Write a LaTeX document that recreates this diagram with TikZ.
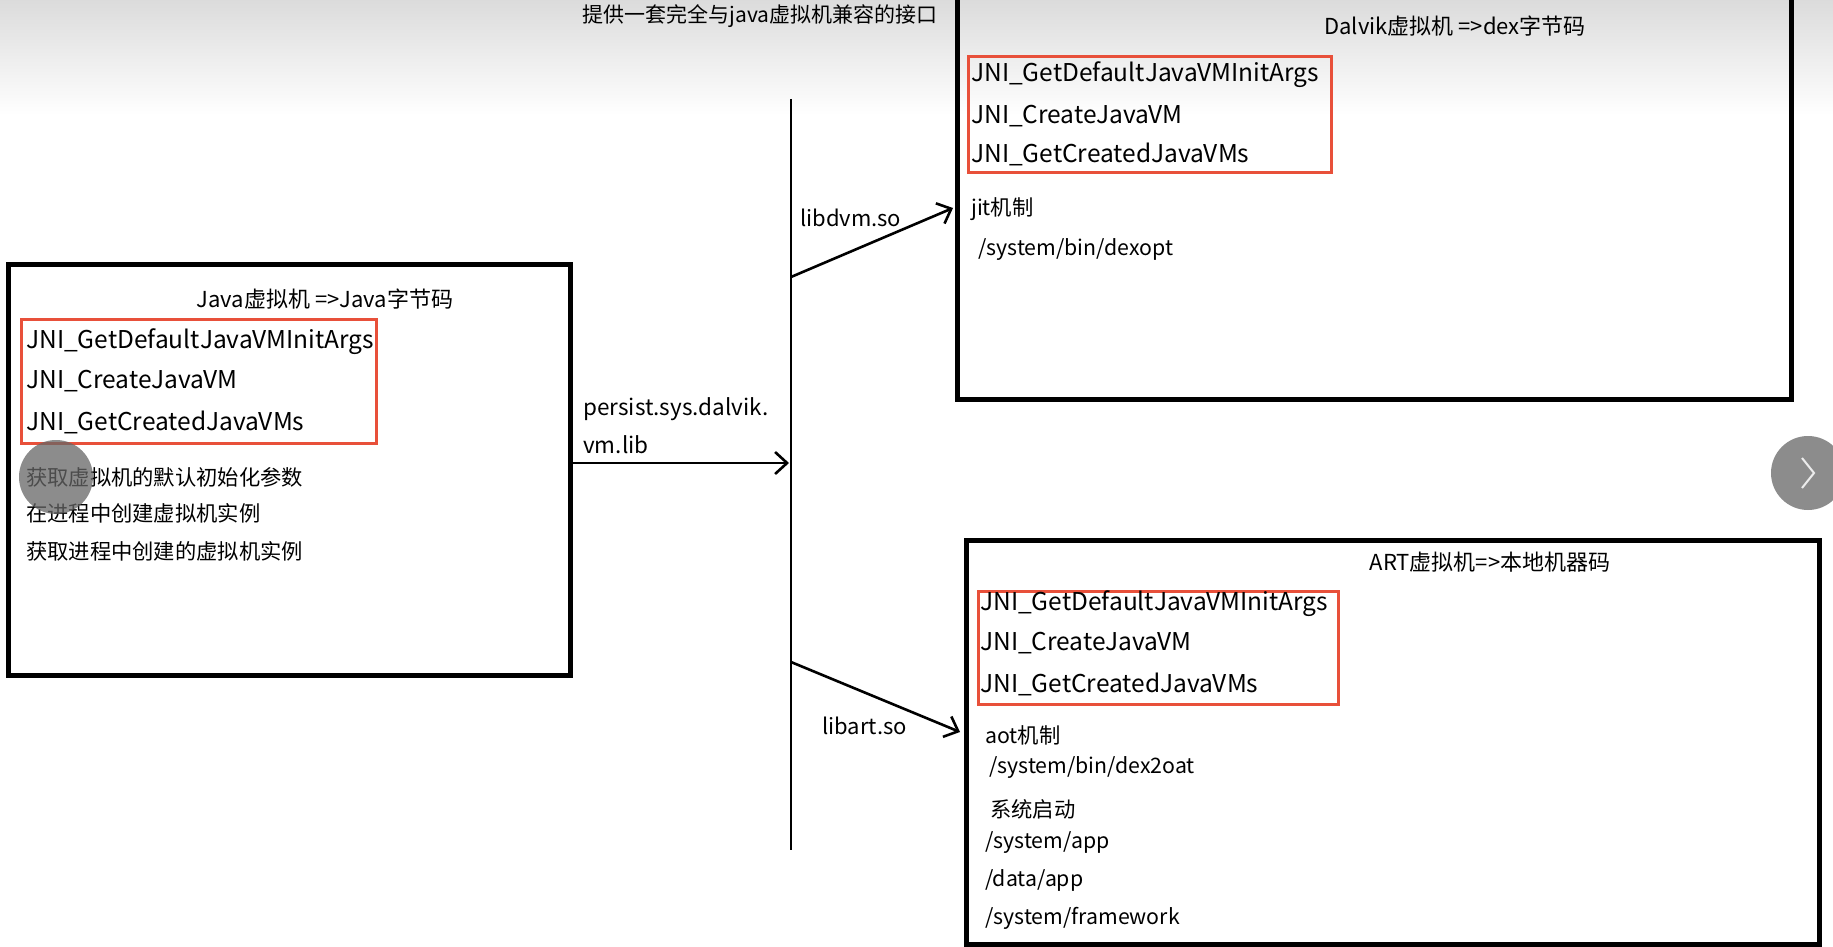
\documentclass[tikz,border=0pt]{standalone}
\usepackage{fontspec}
\setmainfont{Noto Sans CJK SC}
\usetikzlibrary{arrows.meta}
\definecolor{redline}{HTML}{E8503A}
\begin{document}
\begin{tikzpicture}[x=1pt,y=-1pt,
  vmbox/.style={draw=black,line width=5pt,anchor=north west,inner sep=0pt},
  redbox/.style={draw=redline,line width=2.6pt,anchor=north west,inner sep=0pt},
  txt/.style={anchor=west,inner sep=0pt,font=\fontsize{24.5}{28}\selectfont},
  cjk/.style={anchor=west,inner sep=0pt,font=\fontsize{21.3}{24}\selectfont},
  lbl/.style={anchor=west,inner sep=0pt,font=\fontsize{21.3}{24}\selectfont},
  ttl/.style={anchor=center,inner sep=0pt,font=\fontsize{22}{24}\selectfont},
  conn/.style={line width=2.6pt,-{Straight Barb[length=12pt,width=22pt,line width=2.6pt]}},
  uicircle/.style={fill=gray!80!black,opacity=0.75}]
\useasboundingbox (0,0) rectangle (1833,947);
\fill[white] (0,0) rectangle (1833,947);
\shade[top color=gray!28,bottom color=white] (0,0) rectangle (1833,115);

% title
\node[ttl,font=\fontsize{21}{24}\selectfont] (title) at (760,16) {提供一套完全与java虚拟机兼容的接口};

% bus line
\coordinate (bustop) at (791,99);
\coordinate (busbot) at (791,850);
\draw[line width=2.6pt] (bustop) -- (busbot);
\coordinate (busdvm) at (791,277);
\coordinate (busart) at (791,662);

% Java VM box
\node[vmbox,minimum width=562pt,minimum height=411pt] (java) at (6,262) {};
\node[ttl] (javatitle) at (325,299) {Java虚拟机 =>Java字节码};
\node[redbox,minimum width=355pt,minimum height=124pt] (javared) at (20,318) {};
\node[txt] (j1) at (26,342) {JNI\_GetDefaultJavaVMInitArgs};
\node[txt] (j2) at (26,381) {JNI\_CreateJavaVM};
\node[txt] (j3) at (26,422) {JNI\_GetCreatedJavaVMs};
\node[cjk] (c1) at (26,477) {获取虚拟机的默认初始化参数};
\node[cjk] (c2) at (26,513) {在进程中创建虚拟机实例};
\node[cjk] (c3) at (26,551) {获取进程中创建的虚拟机实例};

% Dalvik box
\node[vmbox,minimum width=834pt,minimum height=427pt] (dalvik) at (955,-30) {};
\node[ttl] (dtitle) at (1455,26) {Dalvik虚拟机 =>dex字节码};
\node[redbox,minimum width=363pt,minimum height=116pt] (dred) at (967,55) {};
\node[txt] (d1) at (971,75) {JNI\_GetDefaultJavaVMInitArgs};
\node[txt] (d2) at (971,116) {JNI\_CreateJavaVM};
\node[txt] (d3) at (971,154) {JNI\_GetCreatedJavaVMs};
\node[cjk] (jit) at (971,209) {jit机制};
\node[cjk] (dexopt) at (978,250) {/system/bin/dexopt};

% ART box
\node[vmbox,minimum width=853pt,minimum height=404pt] (art) at (964,538) {};
\node[ttl] (atitle) at (1490,562) {ART虚拟机=>本地机器码};
\node[redbox,minimum width=360pt,minimum height=113pt] (ared) at (977,590) {};
\node[txt] (a1) at (980,604) {JNI\_GetDefaultJavaVMInitArgs};
\node[txt] (a2) at (980,643) {JNI\_CreateJavaVM};
\node[txt] (a3) at (980,684) {JNI\_GetCreatedJavaVMs};
\node[cjk] (aot) at (985,735) {aot机制};
\node[cjk] (dex2oat) at (989,768) {/system/bin/dex2oat};
\node[cjk] (boot) at (990,809) {系统启动};
\node[cjk] (sysapp) at (985,843) {/system/app};
\node[cjk] (dataapp) at (985,880) {/data/app};
\node[cjk] (fw) at (985,918) {/system/framework};

% connectors
\coordinate (javaout) at (568,463);
\coordinate (busin) at (789,463);
\draw[conn] (javaout) -- (busin);
\node[lbl,font=\fontsize{22.5}{24}\selectfont] (p1) at (583,409) {persist.sys.dalvik.};
\node[lbl,font=\fontsize{22.5}{24}\selectfont] (p2) at (583,445) {vm.lib};

\coordinate (dvmin) at (953,208);
\draw[conn] (busdvm) -- (dvmin);
\node[lbl,font=\fontsize{22}{24}\selectfont] (libdvm) at (800,218) {libdvm.so};

\coordinate (artin) at (960,732);
\draw[conn] (busart) -- (artin);
\node[lbl,font=\fontsize{22}{24}\selectfont] (libart) at (822,726) {libart.so};

% player overlay circles
\fill[uicircle] (56,477) circle (37);
\fill[uicircle] (1808,473) circle (37);
\draw[white!85!gray,line width=2pt] (1802,458) -- (1814,473) -- (1802,488);
\end{tikzpicture}
\end{document}
